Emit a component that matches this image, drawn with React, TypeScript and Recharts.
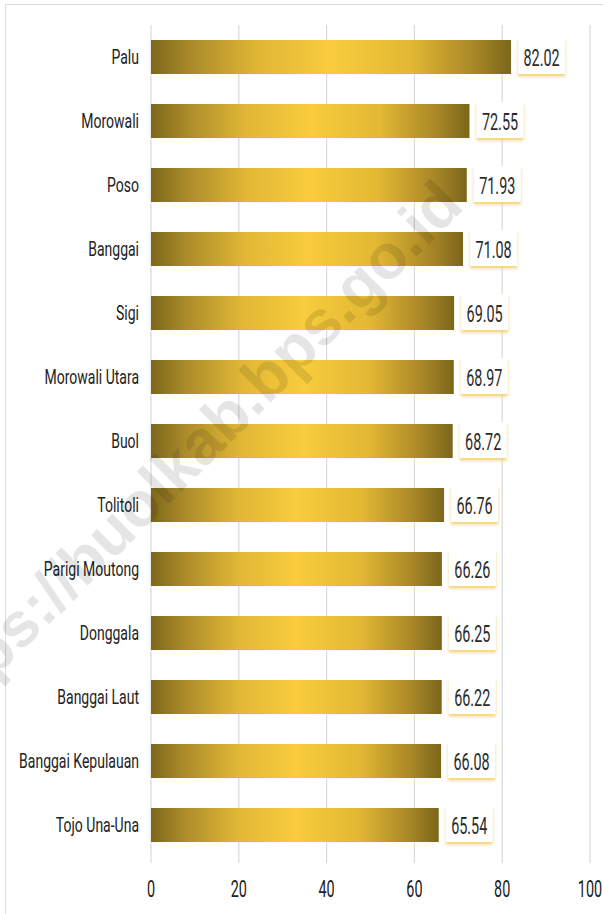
import React from "react";
import { BarChart, Bar, XAxis, YAxis, CartesianGrid, LabelList } from "recharts";

const regions = [
  "Palu",
  "Morowali",
  "Poso",
  "Banggai",
  "Sigi",
  "Morowali Utara",
  "Buol",
  "Tolitoli",
  "Parigi Moutong",
  "Donggala",
  "Banggai Laut",
  "Banggai Kepulauan",
  "Tojo Una-Una",
];
const values = [82.02, 72.55, 71.93, 71.08, 69.05, 68.97, 68.72, 66.76, 66.26, 66.25, 66.22, 66.08, 65.54];
const xTicks = [0, 20, 40, 60, 80, 100];
const watermark = "https://buolkab.bps.go.id";

const data = regions.map((name, i) => ({ name, value: values[i] }));

const FONT = "Roboto, 'Liberation Sans', sans-serif";

const YTick = (props: any) => {
  const { y, payload } = props;
  return (
    <g transform={`translate(139, ${y}) scale(0.7, 1)`}>
      <text x={0} y={0} dy={7} textAnchor="end" fontFamily={FONT} fontSize={20} fill="#222">
        {payload.value}
      </text>
    </g>
  );
};

const XTick = (props: any) => {
  const { x, y, payload } = props;
  return (
    <g transform={`translate(${x}, ${y}) scale(0.6, 1)`}>
      <text x={0} y={0} dy={34} textAnchor="middle" fontFamily={FONT} fontSize={24} fill="#222">
        {payload.value}
      </text>
    </g>
  );
};

const ValueLabel = (props: any) => {
  const { x, y, width, height, value } = props;
  const bx = x + width + 7;
  const cy = y + height / 2;
  const w = 47;
  const h = 36;
  return (
    <g>
      <rect x={bx} y={cy - h / 2 - 1} width={w} height={h} fill="#ffffff" filter="url(#lblShadow)" />
      <g transform={`translate(${bx + w / 2}, ${cy}) scale(0.6, 1)`}>
        <text x={0} y={0} dy={8.5} textAnchor="middle" fontFamily={FONT} fontSize={24} fill="#2b2b2b">
          {Number(value).toFixed(2)}
        </text>
      </g>
    </g>
  );
};

export default function App() {
  return (
    <div style={{ position: "absolute", left: 0, top: 0, width: 603, height: 914, overflow: "hidden", background: "#fff" }}>
      <div
        style={{
          position: "absolute",
          left: 5,
          top: 4,
          width: 640,
          height: 960,
          border: "1.5px solid #dcdcdc",
          boxSizing: "border-box",
        }}
      />
      <div style={{ position: "absolute", left: 0, top: 0 }}>
        <BarChart
          width={603}
          height={914}
          data={data}
          layout="vertical"
          margin={{ top: 25, right: 13, left: 0, bottom: 17 }}
          barCategoryGap={30}
        >
          <defs>
            <linearGradient id="gold" x1="0" y1="0" x2="1" y2="0">
              <stop offset="0%" stopColor="#7d671b" />
              <stop offset="12%" stopColor="#ad8d2b" />
              <stop offset="30%" stopColor="#e0b736" />
              <stop offset="50%" stopColor="#f8cc3c" />
              <stop offset="72%" stopColor="#e2b834" />
              <stop offset="90%" stopColor="#a78627" />
              <stop offset="100%" stopColor="#7c661b" />
            </linearGradient>
            <filter id="lblShadow" x="-20%" y="-20%" width="140%" height="150%">
              <feDropShadow dx="0" dy="2.5" stdDeviation="1.4" floodColor="#efcf6c" floodOpacity="0.9" />
            </filter>
          </defs>
          <CartesianGrid horizontal={false} stroke="#d9d9d9" strokeWidth={1.2} />
          <XAxis
            type="number"
            domain={[0, 100]}
            ticks={xTicks}
            axisLine={false}
            tickLine={{ stroke: "#d9d9d9", strokeWidth: 1.2 }}
            tickSize={6}
            tickMargin={0}
            height={40}
            interval={0}
            tick={<XTick />}
          />
          <YAxis
            type="category"
            dataKey="name"
            width={151}
            axisLine={false}
            tickLine={false}
            interval={0}
            tick={<YTick />}
          />
          <Bar dataKey="value" fill="url(#gold)" barSize={34} isAnimationActive={false}>
            <LabelList dataKey="value" content={<ValueLabel />} />
          </Bar>
        </BarChart>
      </div>
      <svg
        width={603}
        height={914}
        style={{ position: "absolute", left: 0, top: 0, pointerEvents: "none" }}
      >
        <text
          x={450}
          y={192}
          textAnchor="end"
          dominantBaseline="central"
          transform="rotate(-45 450 192)"
          fontFamily="'Liberation Sans', Arial, sans-serif"
          fontWeight="bold"
          fontSize={63}
          fill="rgba(0,0,0,0.1)"
        >
          {watermark}
        </text>
      </svg>
    </div>
  );
}
